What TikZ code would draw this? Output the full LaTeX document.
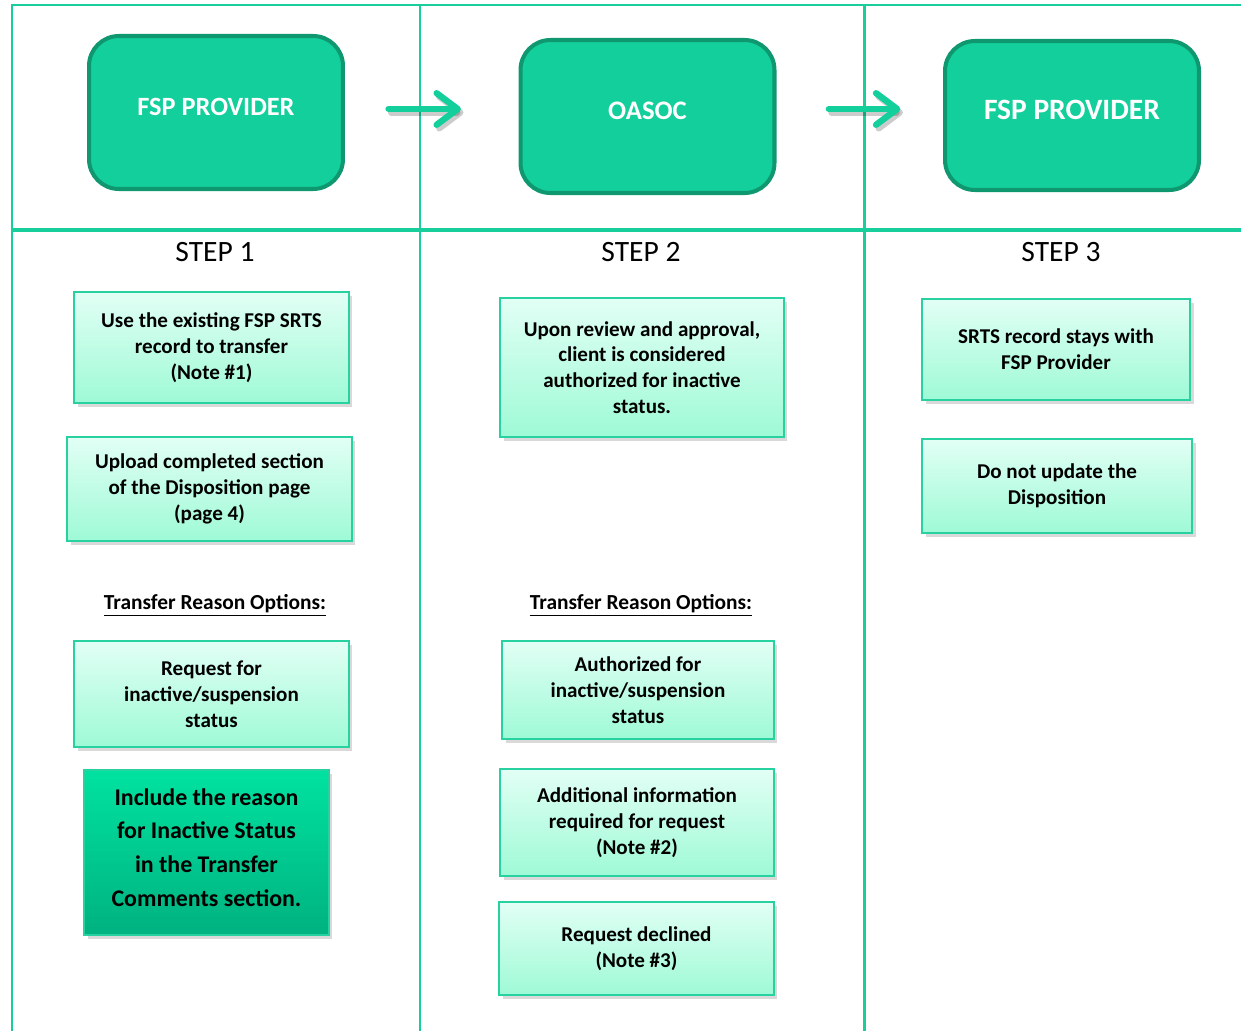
\documentclass[tikz,border=0pt]{standalone}
\usepackage{fontspec}
\setmainfont{Carlito}
\usepackage{tikz}
\usetikzlibrary{arrows.meta,positioning,calc,shadows}

\definecolor{gridgreen}{RGB}{24,207,155}
\definecolor{topfill}{RGB}{19,207,155}
\definecolor{topdraw}{RGB}{15,152,112}
\definecolor{lighttop}{RGB}{226,255,245}
\definecolor{lightbot}{RGB}{158,250,214}
\definecolor{lightdraw}{RGB}{40,210,160}
\definecolor{darktop}{RGB}{0,226,160}
\definecolor{darkbot}{RGB}{0,178,128}

\tikzset{
  actor/.style={draw=topdraw,fill=topfill,line width=2.3pt,rounded corners=17pt,
    minimum width=5.08cm,minimum height=3.06cm,text=white,font=\bfseries},
  infobox/.style={draw=lightdraw,line width=1pt,top color=lighttop,bottom color=lightbot,
    align=center,font=\bfseries\fontsize{12}{14.7}\selectfont,
    drop shadow={opacity=0.3,shadow xshift=2pt,shadow yshift=-2.5pt}},
  notebox/.style={draw=lightdraw,line width=1pt,top color=darktop,bottom color=darkbot,
    drop shadow={opacity=0.3,shadow xshift=2pt,shadow yshift=-2.5pt}},
  notetext/.style={align=center,font=\bfseries\fontsize{13.6}{19.2}\selectfont},
  steplabel/.style={font=\fontsize{16.8}{19}\selectfont},
  optlabel/.style={font=\bfseries\fontsize{12.2}{14}\selectfont},
  flow/.style={draw=topfill,line width=3.6pt,line cap=round,
    -{Straight Barb[round,length=12pt,width=18pt]}},
  flowshade/.style={draw=black,opacity=0.2,line width=3.6pt,line cap=round,
    -{Straight Barb[round,length=12pt,width=18pt]}}
}

\begin{document}
\begin{tikzpicture}[x=0.02cm,y=-0.02cm]
  \useasboundingbox (0,0) rectangle (1241,1031);
  % swimlane grid
  \draw[gridgreen,line width=1.7pt] (12,1031) -- (12,5) -- (1241,5);
  \draw[gridgreen,line width=1.7pt] (420,5) -- (420,1031);
  \draw[gridgreen,line width=1.7pt] (864,5) -- (864,1031);
  \draw[gridgreen,line width=2.4pt] (12,230) -- (1241,230);

  % actors
  \node[actor] (prov1) at (216,112.5) {\raisebox{6pt}{\fontsize{15}{17}\selectfont FSP PROVIDER}};
  \node[actor] (oasoc) at (647.5,116.5) {\raisebox{6pt}{\fontsize{15.2}{17}\selectfont OASOC}};
  \node[actor,minimum height=2.98cm] (prov2) at (1072,115.5) {\raisebox{6pt}{\fontsize{16.8}{19}\selectfont FSP PROVIDER}};

  \draw[flowshade,shorten <=24.8pt,shorten >=32.8pt,transform canvas={shift={(1.5pt,-2pt)}}]
    ($(prov1.east)+(0,-3.5)$) -- ($(oasoc.west)+(0,-7.5)$);
  \draw[flow,shorten <=24.8pt,shorten >=32.8pt] ($(prov1.east)+(0,-3.5)$) -- ($(oasoc.west)+(0,-7.5)$);
  \draw[flowshade,shorten <=29.8pt,shorten >=24.3pt,transform canvas={shift={(1.5pt,-2pt)}}]
    ($(oasoc.east)+(0,-7.5)$) -- ($(prov2.west)+(0,-6.5)$);
  \draw[flow,shorten <=29.8pt,shorten >=24.3pt] ($(oasoc.east)+(0,-7.5)$) -- ($(prov2.west)+(0,-6.5)$);

  % step headings
  \node[steplabel] (s1) at (215,252) {STEP 1};
  \node[steplabel] (s2) at (641,252) {STEP 2};
  \node[steplabel] (s3) at (1061,252) {STEP 3};

  % step 1
  \node[infobox,minimum width=5.5cm,minimum height=2.22cm] (use) at (211.5,347.5)
    {Use the existing FSP SRTS\\record to transfer\\(Note \#1)};
  \node[infobox,minimum width=5.7cm,minimum height=2.08cm] (upload) at (209.5,489)
    {Upload completed section\\of the Disposition page\\(page 4)};
  \node[optlabel] (opt1) at (215,605) {\underline{Transfer Reason Options:}};
  \node[infobox,minimum width=5.5cm,minimum height=2.12cm] (req) at (211.5,694)
    {Request for\\inactive/suspension\\status};
  \node[notebox,minimum width=4.9cm,minimum height=3.3cm] (incl) at (206.5,852.5) {};
  \node[notetext] (incltext) at ($(incl.center)+(0,-5)$)
    {Include the reason\\for Inactive Status\\in the Transfer\\Comments section.};

  % step 2
  \node[infobox,minimum width=5.68cm,minimum height=2.78cm] (review) at (642,367.5)
    {Upon review and approval,\\client is considered\\authorized for inactive\\status.};
  \node[optlabel] (opt2) at (641,605) {\underline{Transfer Reason Options:}};
  \node[infobox,minimum width=5.44cm,minimum height=1.96cm] (auth) at (638,690)
    {Authorized for\\inactive/suspension\\status};
  \node[infobox,minimum width=5.48cm,minimum height=2.14cm] (addl) at (637,822.5)
    {Additional information\\required for request\\(Note \#2)};
  \node[infobox,minimum width=5.5cm,minimum height=1.86cm] (decl) at (636.5,948.5)
    {Request declined\\(Note \#3)};

  % step 3
  \node[infobox,minimum width=5.36cm,minimum height=2.02cm] (stays) at (1056,349.5)
    {SRTS record stays with\\FSP Provider};
  \node[infobox,minimum width=5.4cm,minimum height=1.88cm] (noupd) at (1057,486)
    {Do not update the\\Disposition};
\end{tikzpicture}
\end{document}
